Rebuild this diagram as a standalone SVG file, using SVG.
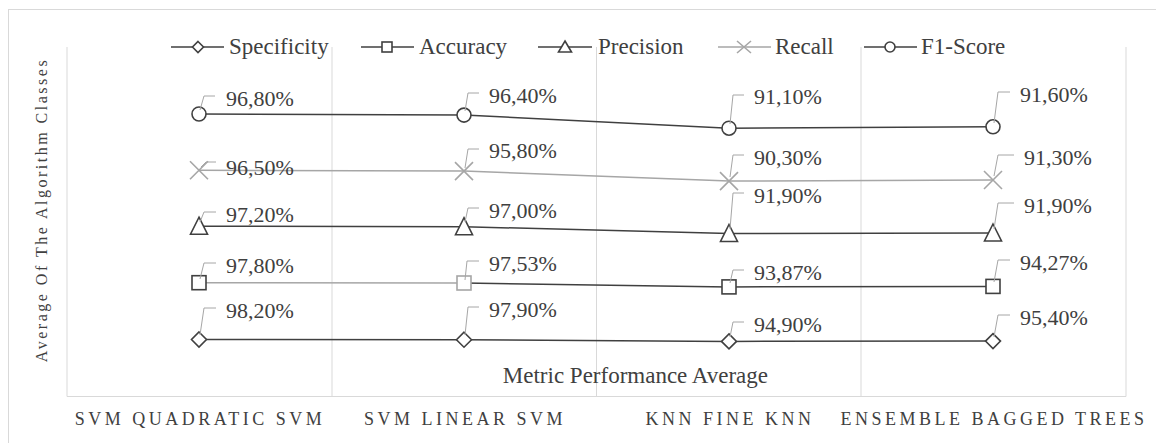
<svg xmlns="http://www.w3.org/2000/svg" width="1156" height="443" viewBox="0 0 1156 443" font-family="'Liberation Serif','Times New Roman','DejaVu Serif',serif">
<style>
.frame{fill:none;stroke:#d9d9d9;stroke-width:1}
.grid{stroke:#d9d9d9;stroke-width:1;fill:none}
.dk{stroke:#404040;fill:none;stroke-width:1.5}
.lt{stroke:#a6a6a6;fill:none;stroke-width:1.5}
.mk{fill:#fff;stroke-width:1.6}
.mkd{stroke:#404040}
.mkl{stroke:#a6a6a6}
.lead{stroke:#a6a6a6;stroke-width:1;fill:none}
text{font-family:'Liberation Serif','Times New Roman','DejaVu Serif',serif;fill:#404040}
.lbl{font-size:22px}
.leg{font-size:23px}
.cat{font-size:18px;letter-spacing:3.5px;text-anchor:middle}
.ttl{font-size:23px}
.ytl{font-size:16px;letter-spacing:2.5px;text-anchor:middle}
</style>
<defs>
<path id="m-dia" d="M0,-7.5L7.5,0L0,7.5L-7.5,0Z"/>
<rect id="m-sq" x="-7" y="-7" width="14" height="14"/>
<path id="m-tri" d="M0,-9L8.5,8L-8.5,8Z"/>
<circle id="m-cir" r="7"/>
<path id="m-x" d="M-9,-9L9,9M9,-9L-9,9"/>
<path id="l-dia" d="M0,-5.5L5.5,0L0,5.5L-5.5,0Z"/>
<rect id="l-sq" x="-5" y="-5" width="10" height="10"/>
<path id="l-tri" d="M0,-6L6.5,5L-6.5,5Z"/>
<circle id="l-cir" r="5"/>
<path id="l-x" d="M-7,-6L7,6M7,-6L-7,6"/>
</defs>
<rect x="0" y="0" width="1156" height="443" fill="#fff"/>
<rect class="frame" x="8.5" y="9.5" width="1160" height="450"/>

<g id="plot-area">
<path class="grid" d="M67,47V396.5M332,47V396.5M596.5,47V396.5M861,47V396.5M1126,47V396.5M67,396.5H1126"/>
</g>

<g id="axis-titles">
<text class="ytl" transform="translate(47,210) rotate(-90)">Average Of The Algorithm Classes</text>
<text class="ttl" x="768" y="383" text-anchor="end">Metric Performance Average</text>
</g>

<g id="categories">
<text class="cat" x="200" y="425">SVM QUADRATIC SVM</text>
<text class="cat" x="465" y="425">SVM LINEAR SVM</text>
<text class="cat" x="730" y="425">KNN FINE KNN</text>
<text class="cat" x="994" y="425">ENSEMBLE BAGGED TREES</text>
</g>

<g id="legend">
<path class="dk" d="M171,47H224"/><use class="mk mkd" href="#l-dia" x="198" y="47"/>
<text class="leg" x="229" y="54">Specificity</text>
<path class="dk" d="M361,47H414"/><use class="mk mkd" href="#l-sq" x="387" y="47"/>
<text class="leg" x="419" y="54">Accuracy</text>
<path class="dk" d="M538,47H592"/><use class="mk mkd" href="#l-tri" x="565" y="47"/>
<text class="leg" x="598" y="54">Precision</text>
<path class="lt" d="M718,47H771"/><use class="mk mkl" href="#l-x" x="744" y="47"/>
<text class="leg" x="775" y="54">Recall</text>
<path class="dk" d="M864,47H917"/><use class="mk mkd" href="#l-cir" x="890" y="47"/>
<text class="leg" x="921" y="54">F1-Score</text>
</g>

<g id="series-specificity">
<polyline class="dk" points="199,339.5 464,339.7 729,341.4 993,341.1"/>
<use class="mk mkd" href="#m-dia" x="199" y="339.5"/>
<use class="mk mkd" href="#m-dia" x="464" y="339.7"/>
<use class="mk mkd" href="#m-dia" x="729" y="341.4"/>
<use class="mk mkd" href="#m-dia" x="993" y="341.1"/>
</g>
<g id="series-accuracy">
<polyline class="lt" points="199,282.7 464,283"/>
<polyline class="dk" points="464,283 729,286.9 993,286.4"/>
<use class="mk mkd" href="#m-sq" x="199" y="282.7"/>
<use class="mk mkl" href="#m-sq" x="464" y="283"/>
<use class="mk mkd" href="#m-sq" x="729" y="286.9"/>
<use class="mk mkd" href="#m-sq" x="993" y="286.4"/>
</g>
<g id="series-precision">
<polyline class="dk" points="199,226.2 464,226.7 729,233.5 993,233"/>
<use class="mk mkd" href="#m-tri" x="199" y="226.2"/>
<use class="mk mkd" href="#m-tri" x="464" y="226.7"/>
<use class="mk mkd" href="#m-tri" x="729" y="233.5"/>
<use class="mk mkd" href="#m-tri" x="993" y="233"/>
</g>
<g id="series-recall">
<polyline class="lt" points="199,170.2 464,171.1 729,181.1 993,180"/>
<use class="mk mkl" href="#m-x" x="199" y="170.2"/>
<use class="mk mkl" href="#m-x" x="464" y="171.1"/>
<use class="mk mkl" href="#m-x" x="729" y="181.1"/>
<use class="mk mkl" href="#m-x" x="993" y="180"/>
</g>
<g id="series-f1">
<polyline class="dk" points="199,114 464,115.1 729,128.2 993,126.8"/>
<use class="mk mkd" href="#m-cir" x="199" y="114"/>
<use class="mk mkd" href="#m-cir" x="464" y="115.1"/>
<use class="mk mkd" href="#m-cir" x="729" y="128.2"/>
<use class="mk mkd" href="#m-cir" x="993" y="126.8"/>
</g>

<g id="leaders">
<path class="lead" d="M200,110L204,96H215"/>
<path class="lead" d="M201,167L206,162H216"/>
<path class="lead" d="M200,222L204,212H216"/>
<path class="lead" d="M200,279L204,263H216"/>
<path class="lead" d="M200,335L204,308H216"/>
<path class="lead" d="M465,111L468,93H479"/>
<path class="lead" d="M465,168L468,149H479"/>
<path class="lead" d="M465,222L468,208H479"/>
<path class="lead" d="M465,280L467,261H479"/>
<path class="lead" d="M465,335L468,307H479"/>
<path class="lead" d="M730,124L733,95H744"/>
<path class="lead" d="M730,177L733,155H744"/>
<path class="lead" d="M730,229L733,193H744"/>
<path class="lead" d="M730,283L733,270H744"/>
<path class="lead" d="M730,337L733,322H744"/>
<path class="lead" d="M994,123L998,92H1010"/>
<path class="lead" d="M994,176L998,155H1014"/>
<path class="lead" d="M994,229L998,203H1014"/>
<path class="lead" d="M994,282L998,260H1010"/>
<path class="lead" d="M994,337L998,315H1010"/>
</g>

<g id="data-labels">
<text class="lbl" x="226" y="106">96,80%</text>
<text class="lbl" x="226" y="175">96,50%</text>
<text class="lbl" x="226" y="222">97,20%</text>
<text class="lbl" x="226" y="273">97,80%</text>
<text class="lbl" x="226" y="318">98,20%</text>
<text class="lbl" x="489" y="103">96,40%</text>
<text class="lbl" x="489" y="158">95,80%</text>
<text class="lbl" x="489" y="218">97,00%</text>
<text class="lbl" x="489" y="271">97,53%</text>
<text class="lbl" x="489" y="317">97,90%</text>
<text class="lbl" x="754" y="104">91,10%</text>
<text class="lbl" x="754" y="165">90,30%</text>
<text class="lbl" x="754" y="203">91,90%</text>
<text class="lbl" x="754" y="280">93,87%</text>
<text class="lbl" x="754" y="332">94,90%</text>
<text class="lbl" x="1020" y="102">91,60%</text>
<text class="lbl" x="1024" y="165">91,30%</text>
<text class="lbl" x="1024" y="213">91,90%</text>
<text class="lbl" x="1020" y="270">94,27%</text>
<text class="lbl" x="1020" y="325">95,40%</text>
</g>
</svg>
